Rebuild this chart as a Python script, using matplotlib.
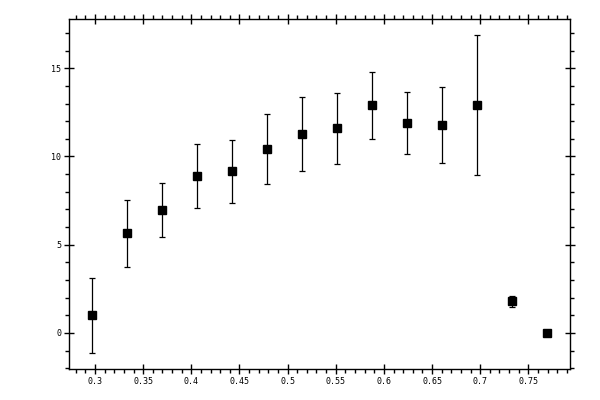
from matplotlib import pyplot as plt
from matplotlib.ticker import MultipleLocator
import numpy as np

x_vals = [0.2972, 0.3335, 0.3699, 0.4062, 0.4425, 0.4789, 0.5152,
          0.5516, 0.5879, 0.6242, 0.6606, 0.6969, 0.7332, 0.7695]
y_vals = [1.00, 5.65, 6.95, 8.88, 9.16, 10.41, 11.26,
          11.60, 12.90, 11.88, 11.77, 12.90, 1.80, 0.00]
y_err = [2.14, 1.90, 1.53, 1.81, 1.79, 1.99, 2.10,
         2.02, 1.90, 1.76, 2.15, 3.97, 0.30, 0.0]

x_ticks = [0.3, 0.35, 0.4, 0.45, 0.5, 0.55, 0.6, 0.65, 0.7, 0.75]
x_tick_labels = ["0.3", "0.35", "0.4", "0.45", "0.5", "0.55", "0.6", "0.65", "0.7", "0.75"]
y_ticks = [0, 5, 10, 15]
y_tick_labels = ["0", "5", "10", "15"]

fig = plt.figure(figsize=[6, 4], dpi=100)
ax = fig.add_axes([0.1155, 0.0775, 0.8345, 0.875])

ax.errorbar(x_vals, y_vals, yerr=y_err, fmt='s', color='black',
            ecolor='black', elinewidth=0.9, capsize=2.3, capthick=0.9,
            markersize=6)

ax.set_xlim(0.2733, 0.7933)
ax.set_ylim(-2.04, 17.79)
ax.set_xticks(x_ticks)
ax.set_xticklabels(x_tick_labels)
ax.set_yticks(y_ticks)
ax.set_yticklabels(y_tick_labels)
ax.xaxis.set_minor_locator(MultipleLocator(0.01))
ax.yaxis.set_minor_locator(MultipleLocator(1))

for sp in ax.spines.values():
    sp.set_linewidth(1.0)

ax.tick_params(which='major', direction='inout', length=6.5, width=1.0,
               top=True, right=True, labelsize=6, pad=2.5)
ax.tick_params(which='minor', direction='out', length=2.8, width=1.0,
               top=True, right=True)
for lbl in ax.get_xticklabels() + ax.get_yticklabels():
    lbl.set_family('DejaVu Sans Mono')

fig.savefig('out.png', dpi=100)
